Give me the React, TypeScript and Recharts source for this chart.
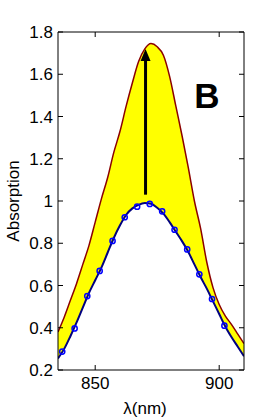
import {
  Area,
  ComposedChart,
  Line,
  ReferenceLine,
  Scatter,
  XAxis,
  YAxis,
} from "recharts";

// wavelength grid (nm) for the two fitted curves
const lambda = [
  835, 837.5, 840, 842.5, 845, 847.5, 850, 852.5, 855, 857.5, 860, 862.5, 865,
  867.5, 870, 872.5, 875, 877.5, 880, 882.5, 885, 887.5, 890, 892.5, 895, 897.5,
  900, 902.5, 905, 907.5, 910,
];

// upper (dark red) curve
const upper = [
  0.38, 0.45, 0.53, 0.61, 0.7, 0.79, 0.9, 1.01, 1.11, 1.23, 1.33, 1.45, 1.56,
  1.66, 1.72, 1.745, 1.73, 1.69, 1.59, 1.45, 1.31, 1.16, 1.0, 0.87, 0.71, 0.59,
  0.51, 0.455, 0.415, 0.37, 0.325,
];

// lower (navy) curve
const lower = [
  0.255, 0.3, 0.36, 0.425, 0.495, 0.565, 0.625, 0.685, 0.755, 0.825, 0.885,
  0.935, 0.965, 0.982, 0.99, 0.987, 0.968, 0.94, 0.9, 0.855, 0.81, 0.76, 0.7,
  0.64, 0.585, 0.525, 0.465, 0.405, 0.355, 0.31, 0.265,
];

// measured points (blue circles)
const markerLambda = [
  836.7, 841.7, 846.8, 851.8, 857, 861.9, 866.9, 872, 877, 882, 887.1, 892,
  897.1, 902.1,
];
const markerValues = [
  0.287, 0.397, 0.55, 0.669, 0.811, 0.923, 0.973, 0.986, 0.951, 0.864, 0.771,
  0.653, 0.536, 0.41,
];

// arrow from lower peak to upper peak
const arrowLambda = 870.3;
const arrowFrom = 1.03;
const arrowTo = 1.72;

const xTicks = [850, 900];
const yTicks = [0.2, 0.4, 0.6, 0.8, 1, 1.2, 1.4, 1.6, 1.8];

const FONT = "'Liberation Sans', Arial, Helvetica, sans-serif";

const curveData = lambda.map((lam, i) => ({
  lam,
  band: [lower[i], upper[i]],
  upper: upper[i],
  lower: lower[i],
}));

const markerData = markerLambda.map((lam, i) => ({ lam, v: markerValues[i] }));

const tickStyle = { fill: "#000", fontSize: 17, fontFamily: FONT };

function Arrow(props: any) {
  const { x1, y1, x2, y2 } = props;
  const head = 12;
  return (
    <g>
      <line x1={x1} y1={y1} x2={x2} y2={y2 + head - 2} stroke="#000" strokeWidth={3} />
      <polygon
        points={`${x2},${y2} ${x2 - 5},${y2 + head} ${x2 + 5},${y2 + head}`}
        fill="#000"
      />
    </g>
  );
}

export default function App() {
  return (
    <div
      style={{
        position: "absolute",
        left: 0,
        top: 0,
        width: 280,
        height: 420,
        background: "#fff",
      }}
    >
      <ComposedChart
        width={280}
        height={420}
        data={curveData}
        margin={{ top: 31, right: 35, bottom: 20, left: 10 }}
      >
        <XAxis
          dataKey="lam"
          type="number"
          domain={[835, 910]}
          ticks={xTicks}
          allowDataOverflow
          height={30}
          tickSize={-5}
          tickMargin={12}
          stroke="#000"
          tick={tickStyle}
          label={{
            value: "λ(nm)",
            position: "bottom",
            offset: 2,
            dx: -6,
            style: { fill: "#000", fontSize: 17, fontFamily: FONT },
          }}
        />
        <XAxis
          xAxisId="top"
          dataKey="lam"
          type="number"
          orientation="top"
          domain={[835, 910]}
          ticks={xTicks}
          allowDataOverflow
          height={1}
          tickSize={-5}
          tickFormatter={() => ""}
          stroke="#000"
        />
        <YAxis
          type="number"
          domain={[0.2, 1.8]}
          ticks={yTicks}
          allowDataOverflow
          width={48}
          tickSize={-5}
          tickMargin={10}
          stroke="#000"
          tick={tickStyle}
          label={{
            value: "Absorption",
            angle: -90,
            position: "insideLeft",
            offset: 3,
            style: {
              fill: "#000",
              fontSize: 17,
              fontFamily: FONT,
              textAnchor: "middle",
            },
          }}
        />
        <YAxis
          yAxisId="right"
          type="number"
          orientation="right"
          domain={[0.2, 1.8]}
          ticks={yTicks}
          allowDataOverflow
          width={1}
          tickSize={-5}
          tickFormatter={() => ""}
          stroke="#000"
        />
        <Area
          type="monotone"
          dataKey="band"
          stroke="none"
          fill="#ffff00"
          fillOpacity={1}
          isAnimationActive={false}
        />
        <Line
          type="monotone"
          dataKey="upper"
          stroke="#8b0000"
          strokeWidth={1.5}
          dot={false}
          isAnimationActive={false}
        />
        {/* invisible series so the mirrored box axes get drawn */}
        <Line
          xAxisId="top"
          yAxisId="right"
          dataKey="upper"
          stroke="none"
          dot={false}
          activeDot={false}
          isAnimationActive={false}
        />
        <Line
          type="monotone"
          dataKey="lower"
          stroke="#000080"
          strokeWidth={2}
          dot={false}
          isAnimationActive={false}
        />
        <Scatter
          data={markerData}
          dataKey="v"
          isAnimationActive={false}
          shape={(p: any) => (
            <circle
              cx={p.cx}
              cy={p.cy}
              r={2.6}
              fill="none"
              stroke="#0000ff"
              strokeWidth={1.5}
            />
          )}
        />
        <ReferenceLine
          segment={[
            { x: arrowLambda, y: arrowFrom },
            { x: arrowLambda, y: arrowTo },
          ]}
          shape={(p: any) => <Arrow {...p} />}
        />
      </ComposedChart>
      <svg
        width={280}
        height={420}
        style={{ position: "absolute", left: 0, top: 0, pointerEvents: "none" }}
      >
        <text
          x={207}
          y={108}
          textAnchor="middle"
          fontSize={35}
          fontWeight="bold"
          fontFamily={FONT}
          fill="#000"
        >
          B
        </text>
      </svg>
    </div>
  );
}
